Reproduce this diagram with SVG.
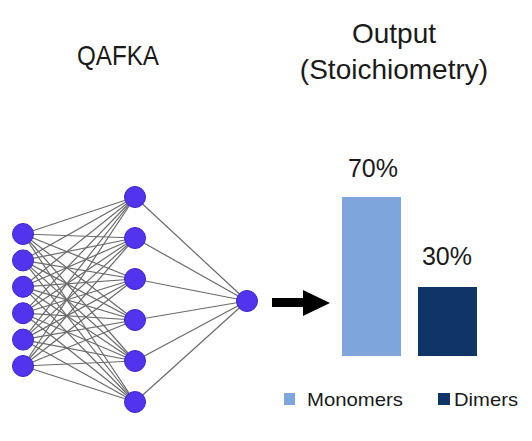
<svg xmlns="http://www.w3.org/2000/svg" width="532" height="441" viewBox="0 0 532 441">
<style>
.t{font-family:"Liberation Sans",Arial,sans-serif;fill:#1a1a1a}
.n{fill:#5233ee;stroke:#3f24cf;stroke-width:1}
.e line{stroke:#6a6a6a;stroke-width:1.2}
.light{fill:#7ea6dc}
.dark{fill:#0f3466}
</style>
<rect width="532" height="441" fill="#ffffff"/>
<text class="t" x="118" y="65" font-size="28" text-anchor="middle" textLength="82" lengthAdjust="spacingAndGlyphs">QAFKA</text>
<text class="t" x="394" y="43" font-size="28" text-anchor="middle">Output</text>
<text class="t" x="394" y="79" font-size="28" text-anchor="middle">(Stoichiometry)</text>
<g id="connectors" class="e">
<line x1="23" y1="234" x2="135" y2="197"/><line x1="23" y1="234" x2="135" y2="238"/><line x1="23" y1="234" x2="135" y2="279"/><line x1="23" y1="234" x2="135" y2="320"/><line x1="23" y1="234" x2="135" y2="361"/><line x1="23" y1="234" x2="135" y2="402"/>
<line x1="23" y1="260.4" x2="135" y2="197"/><line x1="23" y1="260.4" x2="135" y2="238"/><line x1="23" y1="260.4" x2="135" y2="279"/><line x1="23" y1="260.4" x2="135" y2="320"/><line x1="23" y1="260.4" x2="135" y2="361"/><line x1="23" y1="260.4" x2="135" y2="402"/>
<line x1="23" y1="286.8" x2="135" y2="197"/><line x1="23" y1="286.8" x2="135" y2="238"/><line x1="23" y1="286.8" x2="135" y2="279"/><line x1="23" y1="286.8" x2="135" y2="320"/><line x1="23" y1="286.8" x2="135" y2="361"/><line x1="23" y1="286.8" x2="135" y2="402"/>
<line x1="23" y1="313.2" x2="135" y2="197"/><line x1="23" y1="313.2" x2="135" y2="238"/><line x1="23" y1="313.2" x2="135" y2="279"/><line x1="23" y1="313.2" x2="135" y2="320"/><line x1="23" y1="313.2" x2="135" y2="361"/><line x1="23" y1="313.2" x2="135" y2="402"/>
<line x1="23" y1="339.6" x2="135" y2="197"/><line x1="23" y1="339.6" x2="135" y2="238"/><line x1="23" y1="339.6" x2="135" y2="279"/><line x1="23" y1="339.6" x2="135" y2="320"/><line x1="23" y1="339.6" x2="135" y2="361"/><line x1="23" y1="339.6" x2="135" y2="402"/>
<line x1="23" y1="366" x2="135" y2="197"/><line x1="23" y1="366" x2="135" y2="238"/><line x1="23" y1="366" x2="135" y2="279"/><line x1="23" y1="366" x2="135" y2="320"/><line x1="23" y1="366" x2="135" y2="361"/><line x1="23" y1="366" x2="135" y2="402"/>
<line x1="135" y1="197" x2="247" y2="301"/><line x1="135" y1="238" x2="247" y2="301"/><line x1="135" y1="279" x2="247" y2="301"/><line x1="135" y1="320" x2="247" y2="301"/><line x1="135" y1="361" x2="247" y2="301"/><line x1="135" y1="402" x2="247" y2="301"/>
</g>
<g id="input-layer">
<circle class="n" cx="23" cy="234" r="10.5"/><circle class="n" cx="23" cy="260.4" r="10.5"/><circle class="n" cx="23" cy="286.8" r="10.5"/><circle class="n" cx="23" cy="313.2" r="10.5"/><circle class="n" cx="23" cy="339.6" r="10.5"/><circle class="n" cx="23" cy="366" r="10.5"/>
</g>
<g id="hidden-layer">
<circle class="n" cx="135" cy="197" r="10.5"/><circle class="n" cx="135" cy="238" r="10.5"/><circle class="n" cx="135" cy="279" r="10.5"/><circle class="n" cx="135" cy="320" r="10.5"/><circle class="n" cx="135" cy="361" r="10.5"/><circle class="n" cx="135" cy="402" r="10.5"/>
</g>
<g id="output-node"><circle class="n" cx="247" cy="301" r="10.5"/></g>
<g id="arrow"><polygon points="272,298 303,298 303,290 330,303 303,316 303,307 272,307" fill="#000"/></g>
<g id="chart">
<rect class="light" x="342" y="197" width="59" height="159"/>
<rect class="dark" x="418" y="287" width="59" height="69"/>
<text class="t" x="373" y="177" font-size="25" text-anchor="middle">70%</text>
<text class="t" x="447" y="265" font-size="25" text-anchor="middle">30%</text>
</g>
<g id="legend">
<rect class="light" x="284" y="393" width="11" height="12"/>
<text class="t" x="307" y="406" font-size="18.5" fill="#333" textLength="96" lengthAdjust="spacingAndGlyphs">Monomers</text>
<rect class="dark" x="438" y="393" width="12" height="12"/>
<text class="t" x="454" y="406" font-size="18.5" fill="#333" textLength="64" lengthAdjust="spacingAndGlyphs">Dimers</text>
</g>
</svg>
